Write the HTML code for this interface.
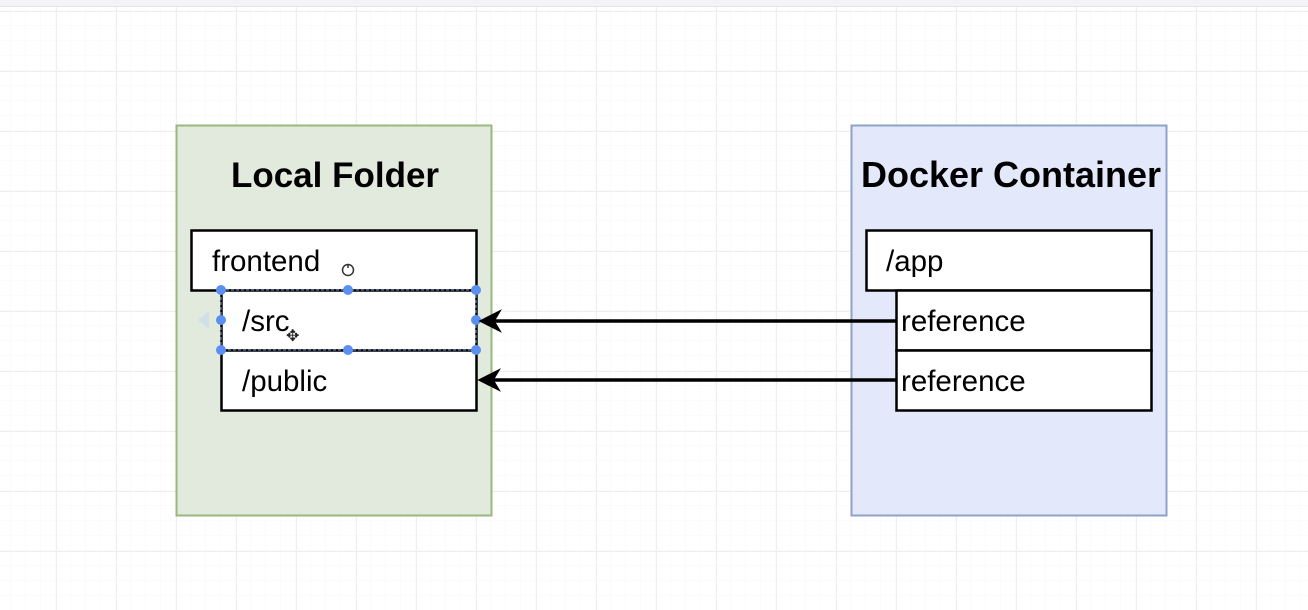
<!DOCTYPE html>
<html><head><meta charset="utf-8"><style>
html,body{margin:0;padding:0;width:1308px;height:610px;overflow:hidden;background:#fff;}
svg text{font-family:"Liberation Sans",Arial,sans-serif;}
</style></head><body>
<svg width="1308" height="610" xmlns="http://www.w3.org/2000/svg">
<defs>
<pattern id="minor" width="15" height="15" patternUnits="userSpaceOnUse" x="11" y="11">
<path d="M15 0V15M0 15H15" stroke="#f7f7f7" stroke-width="1" fill="none"/>
</pattern>
<pattern id="major" width="60" height="60" patternUnits="userSpaceOnUse" x="56" y="11">
<path d="M0.5 0V60M0 0.5H60" stroke="#efefef" stroke-width="1" fill="none"/>
</pattern>
</defs>
<rect width="1308" height="610" fill="#fff"/>
<rect width="1308" height="610" fill="url(#minor)"/>
<rect width="1308" height="610" fill="url(#major)"/>
<rect x="0" y="0" width="1308" height="6" fill="#f4f4f6"/>
<line x1="0" y1="6.5" x2="1308" y2="6.5" stroke="#e4e4e6"/>

<!-- Left container -->
<rect x="176.5" y="125.5" width="315" height="390" fill="#e2e9dd" stroke="#9ab87e" stroke-width="2"/>
<text x="335" y="187" font-size="35" font-weight="bold" text-anchor="middle" fill="#000">Local Folder</text>
<rect x="191.5" y="230.5" width="285" height="60" fill="#fff" stroke="#000" stroke-width="2.5"/>
<text x="212" y="271" font-size="29.5" fill="#000">frontend</text>
<circle cx="348" cy="270" r="5.5" fill="none" stroke="#333" stroke-width="1.5"/>
<line x1="348" y1="264" x2="348" y2="268" stroke="#333" stroke-width="1.5"/>
<rect x="221.5" y="290.5" width="255" height="60" fill="#fff" stroke="#000" stroke-width="2.5"/>
<text x="242" y="331" font-size="29.5" fill="#000">/src</text>
<rect x="221.5" y="350.5" width="255" height="60" fill="#fff" stroke="#000" stroke-width="2.5"/>
<text x="242" y="391" font-size="29.5" fill="#000">/public</text>
<!-- selection -->
<rect x="221" y="290" width="255" height="60" fill="none" stroke="#6a8fd8" stroke-width="1" stroke-dasharray="3 2"/>
<g fill="#5b8ff0">
<circle cx="221" cy="290" r="5"/><circle cx="348" cy="290" r="5"/><circle cx="476" cy="290" r="5"/>
<circle cx="221" cy="320" r="5"/><circle cx="476" cy="320" r="5"/>
<circle cx="221" cy="350" r="5"/><circle cx="348" cy="350" r="5"/><circle cx="476" cy="350" r="5"/>
</g>
<path d="M209 311 L198 320 L209 329 Z" fill="#cfe0e6"/>
<text x="286" y="341" font-size="16" fill="#222">✥</text>

<!-- Right container -->
<rect x="851.5" y="125.5" width="315" height="390" fill="#e3e9fb" stroke="#8ea3c8" stroke-width="2"/>
<text x="1011" y="187" font-size="36" font-weight="bold" text-anchor="middle" fill="#000">Docker Container</text>
<rect x="866.5" y="230.5" width="285" height="60" fill="#fff" stroke="#000" stroke-width="2.5"/>
<text x="886" y="271" font-size="29.5" fill="#000">/app</text>
<rect x="896.5" y="290.5" width="255" height="60" fill="#fff" stroke="#000" stroke-width="2.5"/>
<text x="901" y="331" font-size="29.5" fill="#000">reference</text>
<rect x="896.5" y="350.5" width="255" height="60" fill="#fff" stroke="#000" stroke-width="2.5"/>
<text x="901" y="391" font-size="29.5" fill="#000">reference</text>

<!-- arrows -->
<line x1="896" y1="321" x2="490" y2="321" stroke="#000" stroke-width="3.5"/>
<path d="M480 321 L500 311 L494 321 L500 331 Z" fill="#000" stroke="#000" stroke-width="1.5"/>
<line x1="896" y1="380" x2="490" y2="380" stroke="#000" stroke-width="3.5"/>
<path d="M479 380 L499 370 L493 380 L499 390 Z" fill="#000" stroke="#000" stroke-width="1.5"/>
</svg>
</body></html>
